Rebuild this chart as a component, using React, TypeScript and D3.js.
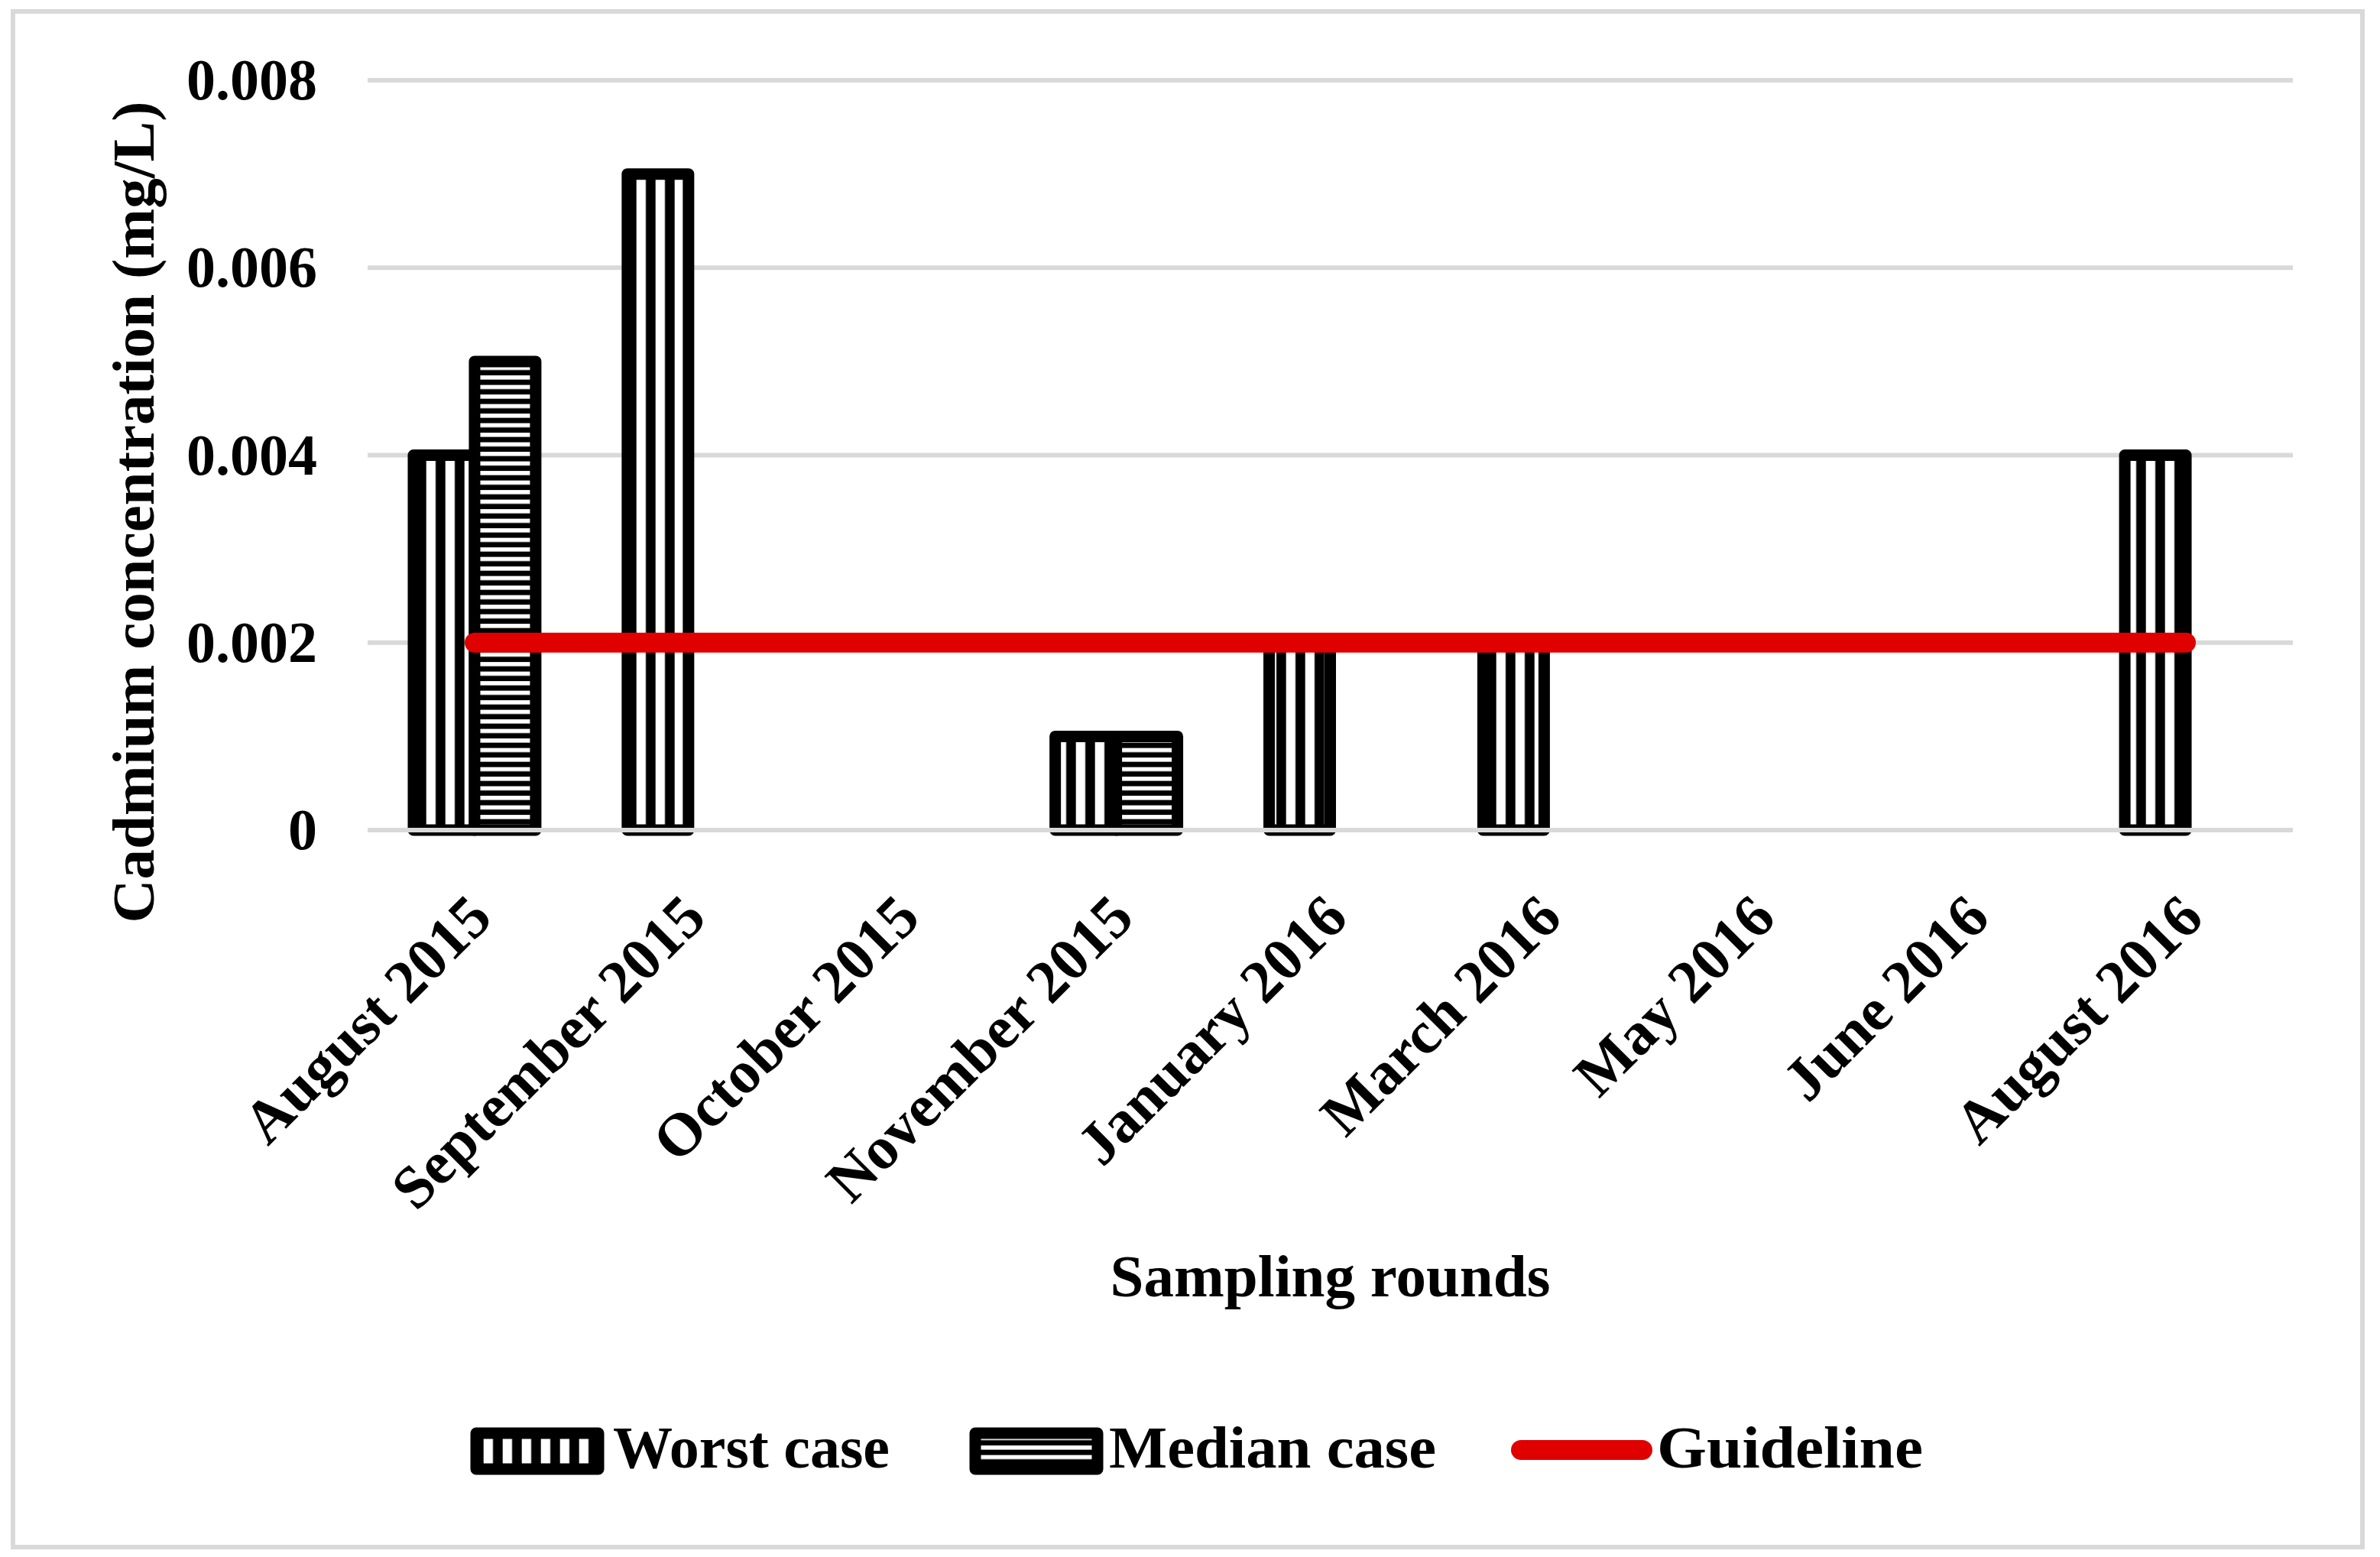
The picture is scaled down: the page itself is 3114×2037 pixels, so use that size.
import * as d3 from 'd3';

// sampling rounds and the two measured series (mg/L)
const rounds = [
  'August 2015',
  'September 2015',
  'October 2015',
  'November 2015',
  'January 2016',
  'March 2016',
  'May 2016',
  'June 2016',
  'August 2016',
];
const worstCase = [0.004, 0.007, 0, 0.001, 0.002, 0.002, 0, 0, 0.004];
const medianCase = [0.005, 0, 0, 0.001, 0, 0, 0, 0, 0];
const guideline = 0.002;
const yTicks = [0, 0.002, 0.004, 0.006, 0.008];
const seriesKeys = ['worst', 'median'];

const W = 3114;
const H = 2037;
const plot = { left: 481, right: 3000, top: 105, bottom: 1086 };
const FONT = '"Liberation Serif", "Times New Roman", serif';
const GRID = '#d9d9d9';
const RED = '#e00000';

export default function App() {
  const x0 = d3
    .scaleBand<string>()
    .domain(rounds)
    .range([plot.left, plot.right])
    .paddingInner(0.4286)
    .paddingOuter(0.2143);
  const x1 = d3.scaleBand<string>().domain(seriesKeys).range([0, x0.bandwidth()]);
  const y = d3.scaleLinear().domain([0, 0.008]).range([plot.bottom, plot.top]);

  const center = (r: string) => (x0(r) as number) + x0.bandwidth() / 2;

  const bars: { key: string; x: number; v: number }[] = [];
  rounds.forEach((r, i) => {
    const vals = [worstCase[i], medianCase[i]];
    seriesKeys.forEach((k, j) => {
      if (vals[j] > 0) bars.push({ key: k, x: (x0(r) as number) + (x1(k) as number), v: vals[j] });
    });
  });

  const guidePath = d3
    .line<string>()
    .x((r) => center(r))
    .y(() => y(guideline))(rounds) as string;

  return (
    <svg
      width={W}
      height={H}
      style={{ position: 'absolute', left: 0, top: 0, background: '#fff' }}
    >
      <defs>
        <pattern id="vstripe" patternUnits="userSpaceOnUse" x={7.7} y={0} width={25} height={25}>
          <rect width={25} height={25} fill="#000" />
          <rect x={0} width={12.3} height={25} fill="#fff" />
        </pattern>
        <pattern id="hstripe" patternUnits="userSpaceOnUse" x={0} y={3.6} width={25} height={12.5}>
          <rect width={25} height={12.5} fill="#000" />
          <rect y={0} width={25} height={5.5} fill="#fff" />
        </pattern>
      </defs>

      <rect x={17} y={15} width={3074} height={2009} fill="#fff" stroke={GRID} strokeWidth={6} />

      {/* gridlines */}
      {yTicks.slice(1).map((t) => (
        <line key={t} x1={plot.left} x2={plot.right} y1={y(t)} y2={y(t)} stroke={GRID} strokeWidth={6} />
      ))}

      {/* y tick labels */}
      {yTicks.map((t) => (
        <text
          key={'l' + t}
          x={415}
          y={y(t) + 25}
          textAnchor="end"
          fontFamily={FONT}
          fontWeight="bold"
          fontSize={76}
        >
          {t === 0 ? '0' : d3.format('.3f')(t)}
        </text>
      ))}

      {/* bars */}
      {bars.map((b, i) => (
        <rect
          key={i}
          x={b.x}
          y={y(b.v)}
          width={x1.bandwidth()}
          height={y(0) - y(b.v)}
          fill={b.key === 'worst' ? 'url(#vstripe)' : 'url(#hstripe)'}
          stroke="#000"
          strokeWidth={15}
          strokeLinejoin="round"
        />
      ))}

      {/* category axis line */}
      <line x1={plot.left} x2={plot.right} y1={y(0)} y2={y(0)} stroke={GRID} strokeWidth={6} />

      {/* guideline */}
      <path d={guidePath} fill="none" stroke={RED} strokeWidth={26} strokeLinecap="round" />

      {/* x tick labels */}
      {rounds.map((r) => (
        <text
          key={r}
          transform={`translate(${center(r) + 26},${1204}) rotate(-45)`}
          textAnchor="end"
          fontFamily={FONT}
          fontWeight="bold"
          fontSize={79}
        >
          {r}
        </text>
      ))}

      {/* axis titles */}
      <text
        x={(plot.left + plot.right) / 2}
        y={1696}
        textAnchor="middle"
        fontFamily={FONT}
        fontWeight="bold"
        fontSize={79}
      >
        Sampling rounds
      </text>
      <text
        transform={`translate(201,670) rotate(-90)`}
        textAnchor="middle"
        fontFamily={FONT}
        fontWeight="bold"
        fontSize={79}
      >
        Cadmium concentration (mg/L)
      </text>

      {/* legend */}
      <rect x={623} y={1875} width={160} height={47} fill="url(#vstripe)" stroke="#000" strokeWidth={15} strokeLinejoin="round" />
      <text x={802} y={1920} fontFamily={FONT} fontWeight="bold" fontSize={78} textLength={362} lengthAdjust="spacingAndGlyphs">
        Worst case
      </text>
      <rect x={1276} y={1875} width={160} height={47} fill="url(#hstripe)" stroke="#000" strokeWidth={15} strokeLinejoin="round" />
      <text x={1451} y={1920} fontFamily={FONT} fontWeight="bold" fontSize={78} textLength={428} lengthAdjust="spacingAndGlyphs">
        Median case
      </text>
      <line x1={1990} x2={2149} y1={1897} y2={1897} stroke={RED} strokeWidth={26} strokeLinecap="round" />
      <text x={2168} y={1920} fontFamily={FONT} fontWeight="bold" fontSize={78} textLength={348} lengthAdjust="spacingAndGlyphs">
        Guideline
      </text>
    </svg>
  );
}
